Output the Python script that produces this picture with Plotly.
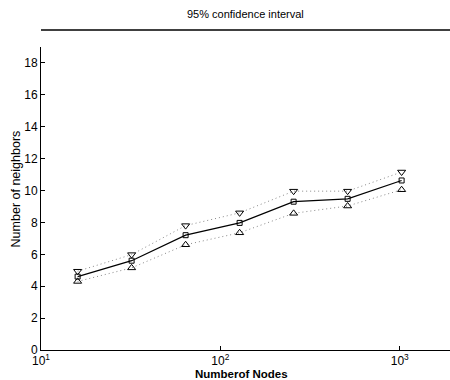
import plotly.graph_objects as go

nodes = [16, 32, 64, 128, 256, 512, 1024]
mean_nb = [4.6, 5.6, 7.2, 7.97, 9.3, 9.48, 10.63]
upper_nb = [4.94, 5.98, 7.8, 8.6, 9.96, 9.96, 11.16]
lower_nb = [4.3, 5.15, 6.6, 7.35, 8.57, 9.03, 10.05]

x_tickvals = [10, 100, 1000]
x_ticktext = ["10<sup>1</sup>", "10<sup>2</sup>", "10<sup>3</sup>"]
y_tickvals = [0, 2, 4, 6, 8, 10, 12, 14, 16, 18]

fig = go.Figure()
fig.add_trace(go.Scatter(x=nodes, y=upper_nb, mode="lines+markers",
                         line=dict(color="#888", width=1, dash="1px,3px"),
                         marker=dict(symbol="triangle-down-open", size=7, color="black", line=dict(width=1)),
                         showlegend=False))
fig.add_trace(go.Scatter(x=nodes, y=lower_nb, mode="lines+markers",
                         line=dict(color="#888", width=1, dash="1px,3px"),
                         marker=dict(symbol="triangle-up-open", size=7, color="black", line=dict(width=1)),
                         showlegend=False))
fig.add_trace(go.Scatter(x=nodes, y=mean_nb, mode="lines+markers",
                         line=dict(color="black", width=1.2),
                         marker=dict(symbol="square-open", size=5, color="black", line=dict(width=1)),
                         showlegend=False))

font = "Liberation Sans, Arial, sans-serif"
fig.update_layout(
    width=450, height=380,
    margin=dict(l=41, r=0, t=47, b=30, autoexpand=False),
    paper_bgcolor="white", plot_bgcolor="white",
    font=dict(family=font, size=11, color="black"),
    xaxis=dict(type="log", range=[1, 3.28], tickvals=x_tickvals, ticktext=x_ticktext,
               showgrid=False, zeroline=False, showline=True, linecolor="black", linewidth=1,
               ticks="inside", ticklen=4, tickcolor="black", automargin=False,
               tickfont=dict(family=font, size=12, color="black")),
    yaxis=dict(range=[0, 19], tickvals=y_tickvals, showgrid=False, zeroline=False,
               showline=True, linecolor="black", linewidth=1,
               ticks="inside", ticklen=4, tickcolor="black", automargin=False,
               tickfont=dict(family=font, size=12, color="black")),
    annotations=[
        dict(text="95% confidence interval", xref="paper", yref="paper", x=0.5, y=1 + 33 / 303,
             xanchor="center", yanchor="middle", showarrow=False,
             font=dict(family=font, size=11, color="black")),
        dict(text="<b>Numberof Nodes</b>", xref="paper", yref="paper", x=0.49, y=-16 / 303,
             xanchor="center", yanchor="top", showarrow=False,
             font=dict(family=font, size=11.5, color="black")),
        dict(text="Number of neighbors", xref="paper", yref="paper", x=-25 / 409, y=0.53,
             xanchor="center", yanchor="middle", textangle=-90, showarrow=False,
             font=dict(family=font, size=12.5, color="black")),
    ],
    shapes=[dict(type="line", xref="paper", yref="paper", x0=0.0, x1=1.0,
                 y0=1 + 17 / 303, y1=1 + 17 / 303, line=dict(color="black", width=1.5))],
)

fig.write_html("out.html", config={"displayModeBar": False},
               post_script="document.body.style.margin='0';document.body.style.overflow='hidden';")
